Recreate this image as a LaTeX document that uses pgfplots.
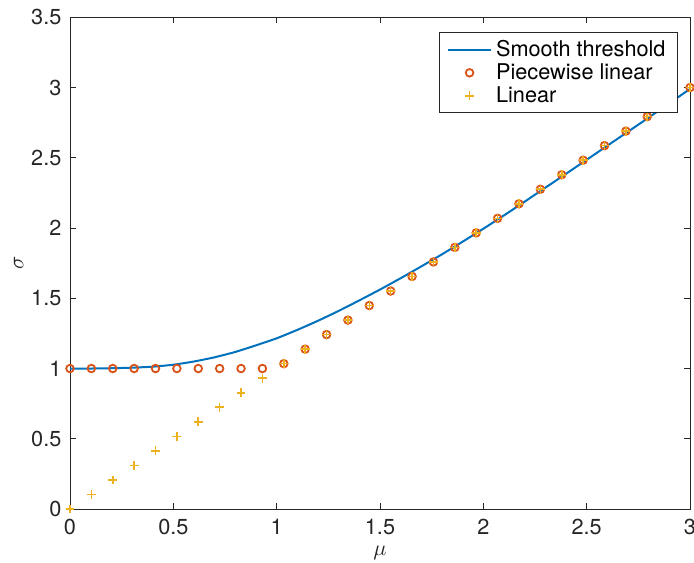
\documentclass[border=0pt]{standalone}
\usepackage{pgfplots}
\pgfplotsset{compat=1.18}
\usepackage{fontspec}
\setmainfont{TeX Gyre Heros}
\definecolor{mblue}{rgb}{0,0.447,0.741}
\definecolor{morange}{rgb}{0.85,0.325,0.098}
\definecolor{myellow}{rgb}{0.929,0.694,0.125}
\definecolor{axgray}{rgb}{0.15,0.15,0.15}
\begin{document}
\begin{tikzpicture}
\fontsize{10.85}{12}\selectfont
\begin{axis}[
  name=ax,
  scale only axis,
  width=310pt, height=245.85pt,
  xmin=0, xmax=3, ymin=0, ymax=3.5,
  xtick={0,0.5,1,1.5,2,2.5,3},
  ytick={0,0.5,1,1.5,2,2.5,3,3.5},
  tick align=inside,
  major tick length=3.1pt,
  axis line style={axgray, line width=0.5pt},
  tick style={axgray, line width=0.5pt},
  every tick label/.append style={font=\fontsize{10.85}{12}\selectfont, text=axgray},
  /pgf/number format/assume math mode=true,
  xticklabel style={yshift=-1pt},
  yticklabel style={xshift=-0.5pt},
  xlabel={$\mu$},
  ylabel={$\sigma$},
  label style={font=\fontsize{10.85}{12}\selectfont, text=axgray},
  xlabel style={yshift=1.5pt},
  ylabel style={yshift=-3.5pt},
  legend cell align=left,
  legend style={at={(1,1)}, anchor=north east, xshift=-6pt, yshift=-7.5pt,
    draw=axgray, line width=0.5pt, font=\fontsize{10.85}{12}\selectfont,
    inner xsep=4pt, inner ysep=1.5pt, row sep=-2pt},
  legend image code/.code={\draw[mark repeat=2,mark phase=2,#1] plot coordinates {(0cm,0cm) (0.378cm,0cm) (0.756cm,0cm)};},
]
\addplot[mblue, line width=1pt, smooth, tension=0.3] coordinates {
(0,1.000) (0.1,1.000) (0.2,1.002) (0.3,1.006) (0.4,1.013) (0.5,1.027)
(0.6,1.050) (0.7,1.080) (0.8,1.118) (0.9,1.165) (1.0,1.215) (1.1,1.275)
(1.2,1.340) (1.3,1.410) (1.4,1.485) (1.5,1.562) (1.6,1.643) (1.7,1.727)
(1.8,1.813) (1.9,1.903) (2.0,1.995) (2.1,2.090) (2.2,2.188) (2.3,2.287)
(2.4,2.386) (2.5,2.486) (2.6,2.586) (2.7,2.686) (2.8,2.786) (2.9,2.888) (3.0,2.990)
};
\addlegendentry{Smooth threshold}
\addplot[only marks, mark=o, mark size=1.9pt, morange, line width=0.9pt] coordinates {
(0,1) (0.1034,1) (0.2069,1) (0.3103,1) (0.4138,1) (0.5172,1) (0.6207,1) (0.7241,1)
(0.8276,1) (0.9310,1) (1.0345,1.0345) (1.1379,1.1379) (1.2414,1.2414) (1.3448,1.3448)
(1.4483,1.4483) (1.5517,1.5517) (1.6552,1.6552) (1.7586,1.7586) (1.8621,1.8621)
(1.9655,1.9655) (2.0690,2.0690) (2.1724,2.1724) (2.2759,2.2759) (2.3793,2.3793)
(2.4828,2.4828) (2.5862,2.5862) (2.6897,2.6897) (2.7931,2.7931) (2.8966,2.8966) (3.0,3.0)
};
\addlegendentry{Piecewise linear}
\addplot[only marks, mark=+, mark size=2.2pt, myellow, line width=0.8pt] coordinates {
(0,0) (0.1034,0.1034) (0.2069,0.2069) (0.3103,0.3103) (0.4138,0.4138) (0.5172,0.5172)
(0.6207,0.6207) (0.7241,0.7241) (0.8276,0.8276) (0.9310,0.9310) (1.0345,1.0345)
(1.1379,1.1379) (1.2414,1.2414) (1.3448,1.3448) (1.4483,1.4483) (1.5517,1.5517)
(1.6552,1.6552) (1.7586,1.7586) (1.8621,1.8621) (1.9655,1.9655) (2.0690,2.0690)
(2.1724,2.1724) (2.2759,2.2759) (2.3793,2.3793) (2.4828,2.4828) (2.5862,2.5862)
(2.6897,2.6897) (2.7931,2.7931) (2.8966,2.8966) (3.0,3.0)
};
\addlegendentry{Linear}
\end{axis}
\pgfresetboundingbox
\path[use as bounding box] ([xshift=-35pt,yshift=-26.5pt]ax.south west) rectangle ([xshift=2pt,yshift=8.65pt]ax.north east);
\end{tikzpicture}
\end{document}
